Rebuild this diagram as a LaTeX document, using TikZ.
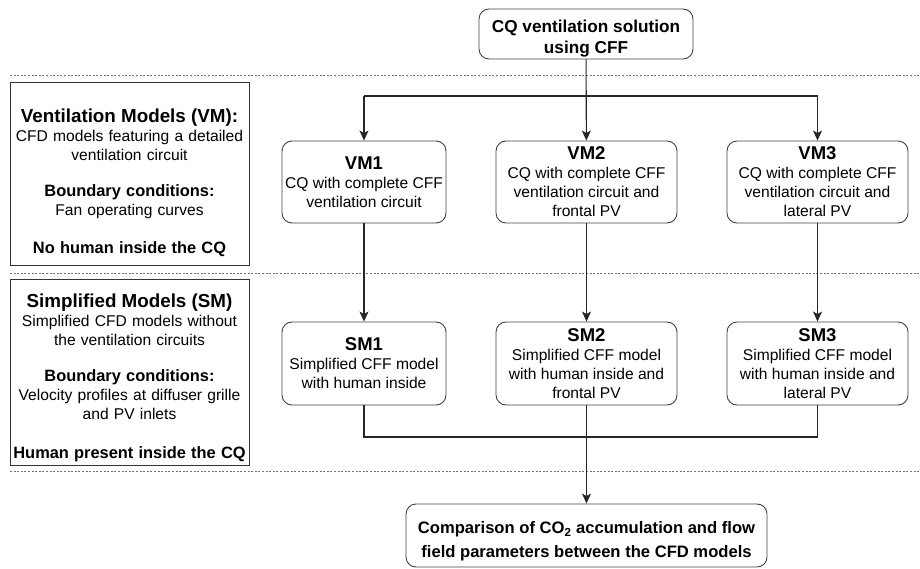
\documentclass[tikz,border=0pt]{standalone}
\usepackage{fontspec}
\setmainfont{Liberation Sans}
\usetikzlibrary{arrows.meta}

\newcommand\boxtitle[1]{{\fontsize{18.5}{21}\selectfont\bfseries #1}}
\newcommand\sidetitle[1]{{\fontsize{18.8}{21}\selectfont\bfseries #1}}
\newcommand\sidehead[1]{{\fontsize{16.4}{19}\selectfont\bfseries #1}}

\begin{document}
\begin{tikzpicture}[x=1pt, y=1pt,
  every node/.style = {align=center, font=\fontsize{15.6}{19}\selectfont},
  modelbox/.style = {shape=rectangle, rounded corners=10pt, draw=black!75,
    line width=0.9pt, inner sep=2pt},
  notebox/.style = {shape=rectangle, draw=black!80, line width=1pt,
    minimum width=239pt, text width=235pt, inner sep=2pt},
  sepline/.style = {draw=black!55, line width=0.8pt, dash pattern=on 2pt off 1.6pt},
  link/.style = {draw=black!85, line width=1.1pt},
  arr/.style = {link, -{Stealth[length=10pt, width=9pt, inset=2.5pt]}}]
  \useasboundingbox (0,0) rectangle (920,-569);

  % dotted separators
  \draw[sepline] (10,-75) -- (920,-75);
  \draw[sepline] (10,-273) -- (920,-273);
  \draw[sepline] (10,-471) -- (920,-471);

  % side notes
  \node[notebox, minimum height=182pt] (vmnote) at (129.5,-174) {%
    \rule{0pt}{31pt}\sidetitle{Ventilation Models (VM):}\\
    CFD models featuring a detailed\\ventilation circuit\\[17pt]
    \sidehead{Boundary conditions:}\\
    Fan operating curves\\[19pt]
    \sidehead{No human inside the CQ}};
  \node[notebox, minimum height=186pt] (smnote) at (129.5,-372) {%
    \rule{0pt}{25pt}\sidetitle{Simplified Models (SM)}\\
    Simplified CFD models without\\the ventilation circuits\\[17pt]
    \sidehead{Boundary conditions:}\\
    Velocity profiles at diffuser grille\\and PV inlets\\[20pt]
    \sidehead{Human present inside the CQ}};

  % flow
  \node[modelbox, minimum width=214pt, minimum height=50pt,
    font=\fontsize{17.2}{21}\selectfont\bfseries] (cff) at (586,-34)
    {\rule{0pt}{21pt}CQ ventilation solution\\using CFF};

  \node[modelbox, minimum width=164pt, minimum height=82pt] (vm1) at (364,-182)
    {\boxtitle{VM1}\\CQ with complete CFF\\ventilation circuit};
  \node[modelbox, minimum width=181pt, minimum height=82pt] (vm2) at (586.5,-182)
    {\boxtitle{VM2}\\CQ with complete CFF\\ventilation circuit and\\frontal PV};
  \node[modelbox, minimum width=181pt, minimum height=82pt] (vm3) at (817.5,-182)
    {\boxtitle{VM3}\\CQ with complete CFF\\ventilation circuit and\\lateral PV};

  \node[modelbox, minimum width=164pt, minimum height=83pt] (sm1) at (364,-363.5)
    {\boxtitle{SM1}\\Simplified CFF model\\with human inside};
  \node[modelbox, minimum width=181pt, minimum height=83pt] (sm2) at (586.5,-363.5)
    {\boxtitle{SM2}\\Simplified CFF model\\with human inside and\\frontal PV};
  \node[modelbox, minimum width=181pt, minimum height=83pt] (sm3) at (817.5,-363.5)
    {\boxtitle{SM3}\\Simplified CFF model\\with human inside and\\lateral PV};

  \node[modelbox, minimum width=361pt, minimum height=63pt,
    font=\fontsize{16.6}{24}\selectfont\bfseries] (cmp) at (586.5,-535.5)
    {\rule{0pt}{24pt}Comparison of CO\textsubscript{2} accumulation and flow\\
     field parameters between the CFD models};

  \coordinate (split) at (586.5,-96);
  \coordinate (join) at (586.5,-437);

  \draw[link] (vm1 |- split) -- (vm3 |- split);
  \draw[arr] (cff) -- (vm2);
  \draw[arr] (vm1 |- split) -- (vm1);
  \draw[arr] (vm3 |- split) -- (vm3);

  \draw[arr] (vm1) -- (sm1);
  \draw[arr] (vm2) -- (sm2);
  \draw[arr] (vm3) -- (sm3);

  \draw[link] (sm1) |- (join) -| (sm3);
  \draw[arr] (sm2) -- (cmp);
\end{tikzpicture}
\end{document}
